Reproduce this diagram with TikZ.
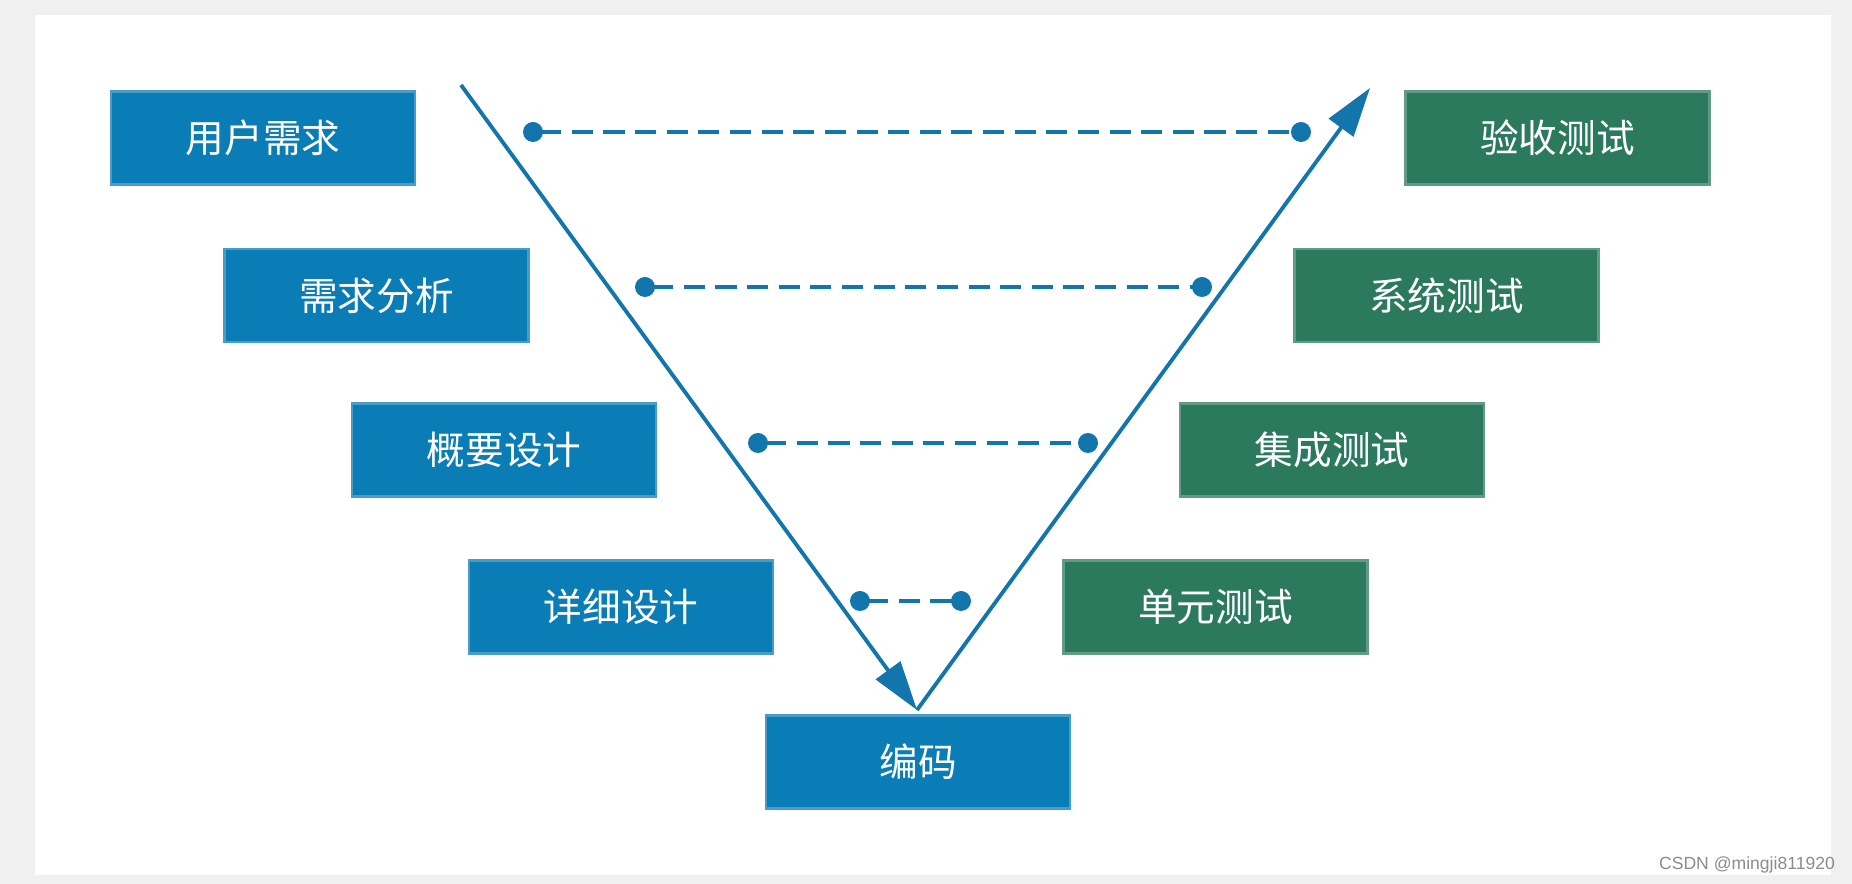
\documentclass[tikz,border=0pt]{standalone}
\usepackage{fontspec}
\usepackage{xcolor}
\usepackage{tikz}
\usetikzlibrary{arrows.meta,positioning}
\newfontfamily\cjk{Noto Sans CJK SC}
\newfontfamily\wmfont{Liberation Sans}
\definecolor{vblue}{RGB}{10,124,182}
\definecolor{vgreen}{RGB}{44,122,94}
\definecolor{vline}{RGB}{18,118,172}

\begin{document}
\begin{tikzpicture}[
    phase/.style={draw=vblue!75!white,line width=0.6pt,fill=vblue,minimum width=3.04cm,minimum height=0.93cm,text=white,font=\cjk\fontsize{11}{13}\selectfont},
    check/.style={phase,draw=vgreen!75!white,fill=vgreen},
    endpt/.style={circle,fill=vline,inner sep=0pt,minimum size=0.2cm},
    link/.style={draw=vline,line width=1pt,dash pattern=on 6pt off 3pt,shorten <=-1pt,shorten >=-1pt},
    >={Triangle[length=14pt,width=8.5pt]},
]
    \useasboundingbox (0,0) rectangle (18.52,-8.84);
    \fill[black!6] (0,0) rectangle (18.52,-8.84);
    \fill[white] (0.35,-0.15) rectangle (18.31,-8.75);

    \node[phase] (need) at (2.63,-1.38) {用户需求};
    \node[phase] (anal) at (3.765,-2.955) {需求分析};
    \node[phase] (arch) at (5.04,-4.50) {概要设计};
    \node[phase] (detl) at (6.21,-6.07) {详细设计};
    \node[phase] (code) at (9.18,-7.62) {编码};

    \node[check] (accp) at (15.575,-1.38) {验收测试};
    \node[check] (syst) at (14.465,-2.955) {系统测试};
    \node[check] (intg) at (13.32,-4.50) {集成测试};
    \node[check] (unit) at (12.155,-6.07) {单元测试};

    \coordinate (vtop) at (4.61,-0.85);
    \coordinate (vtip) at (9.17,-7.10);
    \coordinate (vend) at (13.70,-0.88);
    \draw[vline,line width=1.1pt,->] (vtop) -- (vtip);
    \draw[vline,line width=1.1pt,->] (vtip) -- (vend);

    \node[endpt] (a1) at (5.33,-1.32) {};
    \node[endpt] (b1) at (13.01,-1.32) {};
    \node[endpt] (a2) at (6.45,-2.87) {};
    \node[endpt] (b2) at (12.02,-2.87) {};
    \node[endpt] (a3) at (7.58,-4.43) {};
    \node[endpt] (b3) at (10.88,-4.43) {};
    \node[endpt] (a4) at (8.60,-6.01) {};
    \node[endpt] (b4) at (9.61,-6.01) {};

    \draw[link] (a1) -- (b1);
    \draw[link] (a2) -- (b2);
    \draw[link] (a3) -- (b3);
    \draw[link] (a4) -- (b4);

    \node[font=\wmfont\fontsize{5}{6}\selectfont,text=black!45] (csdn) at (17.47,-8.65) {CSDN @mingji811920};
\end{tikzpicture}
\end{document}
